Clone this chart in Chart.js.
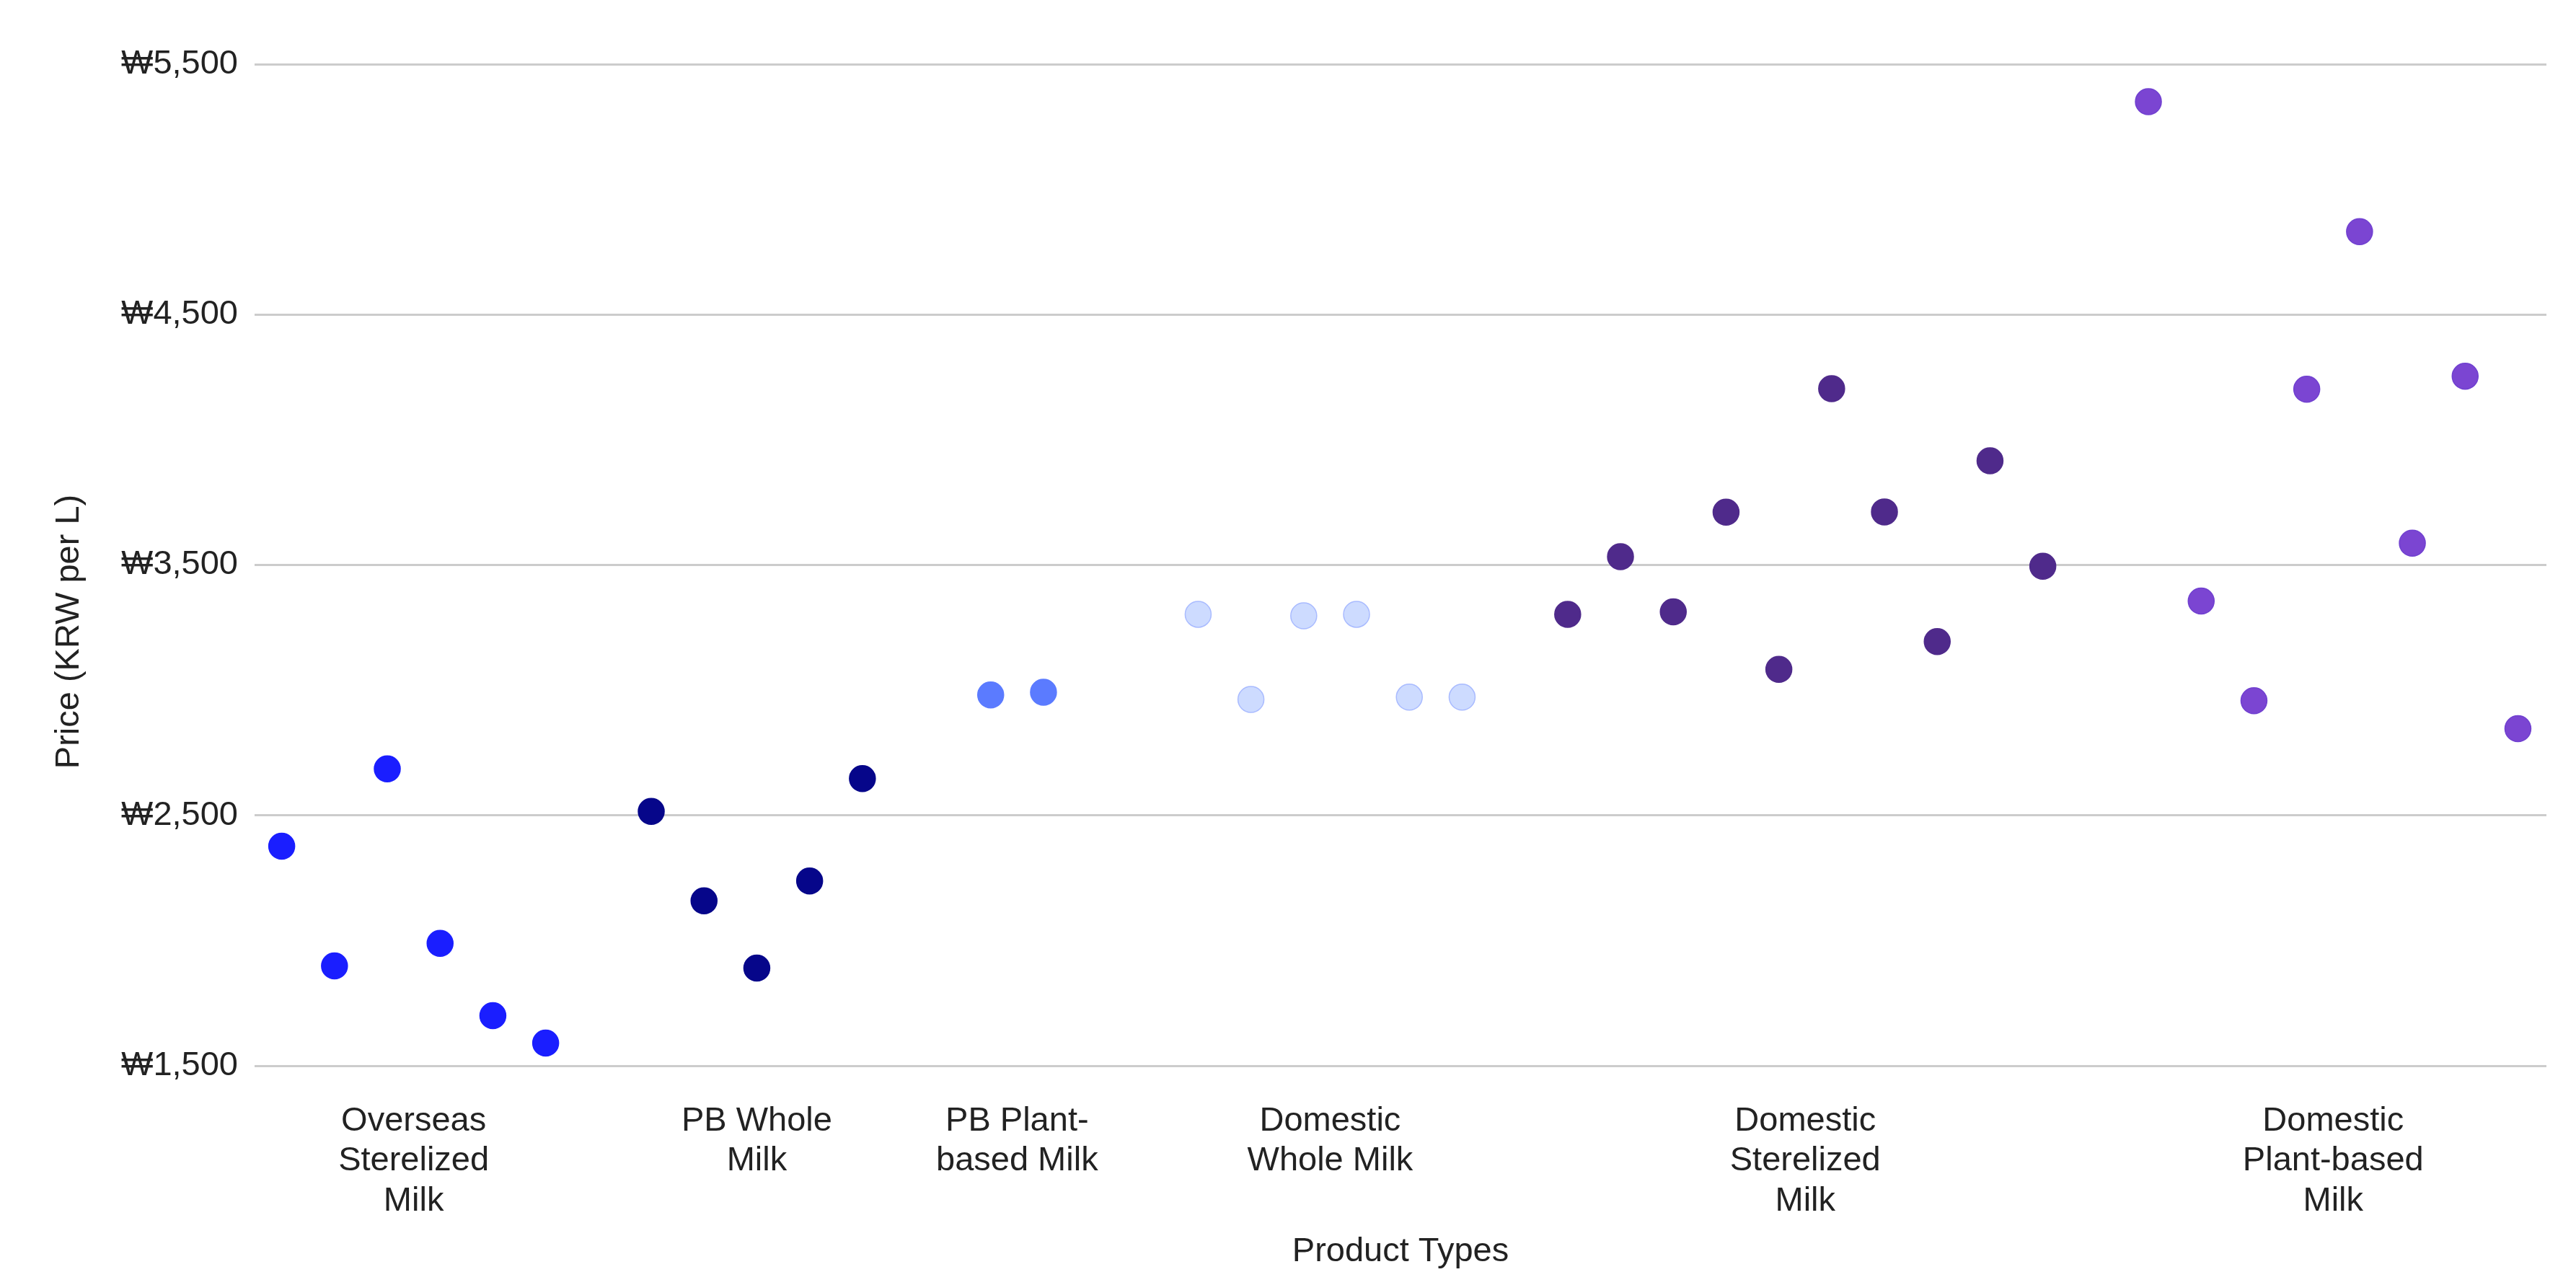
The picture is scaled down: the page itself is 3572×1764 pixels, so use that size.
<!DOCTYPE html>
<html>
<head>
<meta charset="utf-8">
<script src="https://cdn.jsdelivr.net/npm/chart.js@4/dist/chart.umd.min.js"></script>
<style>
  html, body { margin: 0; padding: 0; background: #ffffff; }
  canvas { display: block; }
</style>
</head>
<body>
<canvas id="c" width="3572" height="1764"></canvas>
<script>
// ---- Data ----
const categories = [
  ["Overseas", "Sterelized", "Milk"],
  ["PB Whole", "Milk"],
  ["PB Plant-", "based Milk"],
  ["Domestic", "Whole Milk"],
  ["Domestic", "Sterelized", "Milk"],
  ["Domestic", "Plant-based", "Milk"]
];
const seriesNames = [
  "Overseas Sterelized Milk", "PB Whole Milk", "PB Plant-based Milk",
  "Domestic Whole Milk", "Domestic Sterelized Milk", "Domestic Plant-based Milk"
];

// x = product slot position along the axis, y = price (KRW per L)
const overseasX  = [0, 1, 2, 3, 4, 5];
const overseasY  = [2377, 1899, 2686, 1989, 1700, 1591];

const pbWholeX   = [7, 8, 9, 10, 11];
const pbWholeY   = [2516, 2159, 1890, 2238, 2647];

const pbPlantX   = [13.43, 14.43];
const pbPlantY   = [2981, 2992];

const domWholeX  = [17.36, 18.36, 19.36, 20.36, 21.36, 22.36];
const domWholeY  = [3303, 2963, 3297, 3303, 2972, 2972];

const domSterX   = [24.36, 25.36, 26.36, 27.36, 28.36, 29.36, 30.36, 31.36, 32.36, 33.36];
const domSterY   = [3303, 3533, 3313, 3711, 3083, 4204, 3712, 3194, 3916, 3495];

const domPlantX  = [35.36, 36.36, 37.36, 38.36, 39.36, 40.36, 41.36, 42.36];
const domPlantY  = [5350, 3356, 2958, 4202, 4831, 3587, 4254, 2846];

const yTicks = [1500, 2500, 3500, 4500, 5500];
const xTitle = "Product Types";
const yTitle = "Price (KRW per L)";

// ---- Styles ----
const fills   = ["#1a1eff", "#06068a", "#5b7bff", "#cddbff", "#4f2a8b", "#7b45d2"];
const borders = ["#1a1eff", "#06068a", "#5b7bff", "#a9bbff", "#4f2a8b", "#7040d0"];
const FONT = '"Liberation Sans", Arial, sans-serif';
const TEXT = "#222222";

const xs = [overseasX, pbWholeX, pbPlantX, domWholeX, domSterX, domPlantX];
const ys = [overseasY, pbWholeY, pbPlantY, domWholeY, domSterY, domPlantY];
const groupCenters = xs.map(a => a.reduce((s, v) => s + v, 0) / a.length);

const datasets = xs.map((xa, i) => ({
  label: seriesNames[i],
  data: xa.map((x, j) => ({ x: x, y: ys[i][j] })),
  backgroundColor: fills[i],
  borderColor: borders[i],
  borderWidth: 1.5,
  pointRadius: 18,
  pointHoverRadius: 18
}));

const yTitlePlugin = {
  id: 'yTitlePlugin',
  afterDraw(chart) {
    const ctx = chart.ctx;
    ctx.save();
    ctx.translate(96, 876);
    ctx.rotate(-Math.PI / 2);
    ctx.font = '47px ' + FONT;
    ctx.fillStyle = TEXT;
    ctx.textAlign = 'center';
    ctx.textBaseline = 'middle';
    ctx.fillText(yTitle, 0, 0);
    ctx.restore();
  }
};

new Chart(document.getElementById('c'), {
  type: 'scatter',
  data: { datasets: datasets },
  plugins: [yTitlePlugin],
  options: {
    responsive: false,
    animation: false,
    devicePixelRatio: 1,
    events: [],
    layout: { padding: { top: 89, right: 41, bottom: 0, left: 0 } },
    plugins: {
      legend: { display: false },
      tooltip: { enabled: false }
    },
    scales: {
      x: {
        type: 'linear',
        min: -0.514,
        max: 42.9,
        grid: { display: false, drawTicks: false },
        border: { display: false },
        afterBuildTicks: (s) => { s.ticks = groupCenters.map(v => ({ value: v })); },
        afterFit: (s) => { s.height = 286; },
        ticks: {
          autoSkip: false,
          maxRotation: 0,
          minRotation: 0,
          padding: 49,
          color: TEXT,
          font: { family: FONT, size: 47, lineHeight: 1.18 },
          callback: (v, i) => categories[i]
        },
        title: {
          display: true,
          text: xTitle,
          color: TEXT,
          padding: { top: 0, bottom: 0 },
          font: { family: FONT, size: 47, lineHeight: 1.2 }
        }
      },
      y: {
        type: 'linear',
        min: yTicks[0],
        max: yTicks[yTicks.length - 1],
        afterBuildTicks: (s) => { s.ticks = yTicks.map(v => ({ value: v })); },
        afterFit: (s) => { s.width = 353; },
        grid: { color: '#cccccc', lineWidth: 3, drawTicks: false },
        border: { display: false },
        ticks: {
          padding: 23,
          color: TEXT,
          font: { family: FONT, size: 47 },
          callback: (v) => '\u20A9' + Number(v).toLocaleString('en-US')
        },
        title: { display: false }
      }
    }
  }
});
</script>
</body>
</html>
